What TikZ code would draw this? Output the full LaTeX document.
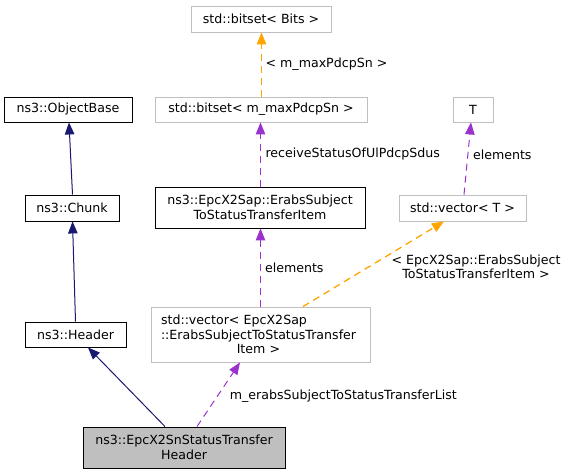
\documentclass[tikz,border=0pt]{standalone}
\usepackage{fontspec}
\setmainfont{DejaVu Sans}
\usetikzlibrary{arrows.meta}
\definecolor{navyc}{HTML}{191970}
\definecolor{purp}{HTML}{9A32CD}
\definecolor{orng}{HTML}{FFA500}
\definecolor{lgray}{HTML}{BFBFBF}
\begin{document}
\begin{tikzpicture}[x=1pt,y=-1pt,
  font=\fontsize{12.6}{14.5}\selectfont,
  cls/.style={draw=black,line width=0.9pt,inner sep=0pt,align=center},
  tpl/.style={draw=lgray,line width=0.9pt,inner sep=0pt,align=center},
  tip/.style={-{Triangle[length=12pt,width=9.5pt]}},
  inh/.style={draw=navyc,line width=1pt,tip},
  usep/.style={draw=purp,line width=1pt,dash pattern=on 7pt off 5pt,tip},
  tmpl/.style={draw=orng,line width=1.3pt,dash pattern=on 7pt off 5pt,tip},
  lbl/.style={inner sep=0pt,anchor=west}]
\useasboundingbox (0,0) rectangle (568,475);
\node[tpl,minimum width=140pt,minimum height=26pt] (bitsetBits) at (261,19) {std::bitset< Bits >};
\node[cls,minimum width=128pt,minimum height=25pt] (objbase) at (68,109.5) {ns3::ObjectBase};
\node[tpl,minimum width=212pt,minimum height=25pt] (bitsetM) at (261,109.5) {std::bitset< m\_maxPdcpSn >};
\node[tpl,minimum width=40pt,minimum height=25pt] (T) at (473,109.5) {T};
\node[cls,minimum width=94pt,minimum height=26pt] (chunk) at (72,208) {ns3::Chunk};
\node[cls,minimum width=210pt,minimum height=41pt] (item) at (260,207.5) {ns3::EpcX2Sap::ErabsSubject\\ToStatusTransferItem};
\node[tpl,minimum width=127pt,minimum height=26pt] (vecT) at (462.5,208) {std::vector< T >};
\node[cls,minimum width=101pt,minimum height=25pt] (header) at (75.5,334.5) {ns3::Header};
\node[tpl,minimum width=219pt,minimum height=55pt,align=left,text width=199pt] (vecE) at (260.5,334.5)
  {std::vector< EpcX2Sap\\::ErabsSubjectToStatusTransfer\\\makebox[195pt]{Item >}};
\node[cls,fill=lgray,minimum width=202pt,minimum height=41pt] (main) at (184,447.5) {ns3::EpcX2SnStatusTransfer\\Header};

\draw[inh] ([xshift=0.5pt]chunk.north) -- ([xshift=1pt]objbase.south);
\draw[inh] (header.north) -- ([xshift=0.5pt]chunk.south);
\draw[inh] ([xshift=-19pt]main.north) -- ([xshift=12.5pt]header.south);
\draw[usep] ([xshift=13pt]main.north) -- node[lbl,pos=0.45,xshift=13pt,yshift=2pt] (l1) {m\_erabsSubjectToStatusTransferList} ([xshift=-20.5pt]vecE.south);
\draw[usep] (vecE.north) -- node[lbl,xshift=4pt] (l2) {elements} ([xshift=0.5pt]item.south);
\draw[usep] ([xshift=0.5pt]item.north) -- node[lbl,xshift=4.5pt] (l3) {receiveStatusOfUlPdcpSdus} ([xshift=-0.5pt]bitsetM.south);
\draw[tmpl] ([xshift=0.5pt]bitsetM.north) -- node[lbl,xshift=3.5pt] (l4) {< m\_maxPdcpSn >} ([xshift=0.5pt]bitsetBits.south);
\draw[usep] ([xshift=1.5pt]vecT.north) -- node[lbl,xshift=5pt,yshift=4pt] (l5) {elements} ([xshift=-2pt]T.south);
\draw[tmpl] ([xshift=42.5pt]vecE.north) -- ([xshift=-18.5pt]vecT.south);
\node[inner sep=0pt,align=center] (l6) at (476,267) {< EpcX2Sap::ErabsSubject\\ToStatusTransferItem >};
\end{tikzpicture}
\end{document}
